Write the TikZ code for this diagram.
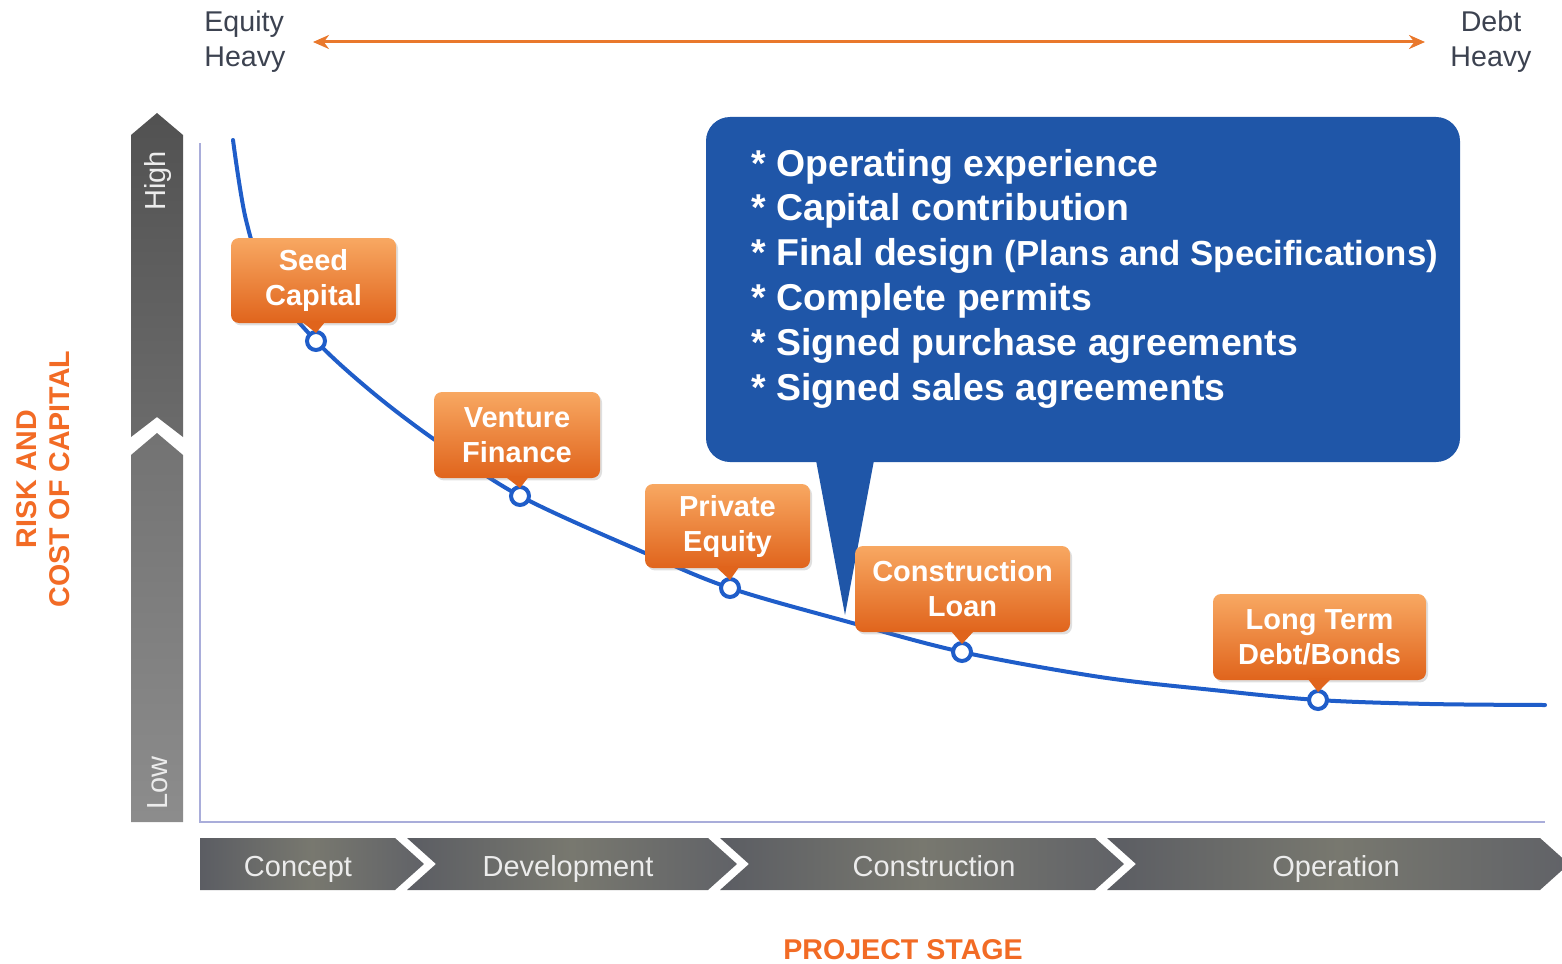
\documentclass[tikz,border=0pt]{standalone}
\usepackage{fontspec}
\setmainfont{Liberation Sans}
\usetikzlibrary{arrows.meta,shadows}

\definecolor{arroworange}{HTML}{E9782C}
\definecolor{labelorange}{HTML}{F26B25}
\definecolor{headgray}{HTML}{3C4250}
\definecolor{curveblue}{HTML}{1F5DC9}
\definecolor{calloutblue}{HTML}{1F56A8}
\definecolor{axisblue}{HTML}{A9ADDA}
\definecolor{boxtop}{HTML}{F8A862}
\definecolor{boxbot}{HTML}{E0641C}
\definecolor{chevdark}{HTML}{5B5D63}
\definecolor{chevmid}{HTML}{78786F}
\definecolor{chevtext}{HTML}{ECECEC}

\tikzset{
  headtext/.style={text=headgray, font=\fontsize{14.3}{17}\selectfont, inner sep=0pt},
  axistitle/.style={text=labelorange, font=\bfseries\fontsize{14.3}{16.5}\selectfont, inner sep=0pt, align=center},
  stagebox/.style={rounded corners=4pt, top color=boxtop, bottom color=boxbot, draw=none,
    text=white, font=\bfseries\fontsize{14.5}{17.5}\selectfont, align=center, inner sep=0pt,
    drop shadow={opacity=0.25, shadow xshift=1pt, shadow yshift=-1.2pt}},
  stageptr/.style={fill=boxbot},
  stagedot/.style={circle, draw=curveblue, line width=2pt, fill=white, minimum size=9pt, inner sep=0pt},
  chevron/.style={left color=chevdark, right color=chevdark!85!gray, middle color=chevmid, draw=none},
  chevlabel/.style={text=chevtext, font=\fontsize{14.5}{17}\selectfont, inner sep=0pt, anchor=base},
  levellabel/.style={text=chevtext, font=\fontsize{14.5}{17}\selectfont, inner sep=0pt, rotate=90},
  noteline/.style={text=white, font=\bfseries\fontsize{18.7}{22}\selectfont, inner sep=0pt, anchor=base west}
}

\begin{document}
\begin{tikzpicture}[x=0.5pt,y=-0.5pt]
\useasboundingbox (0,0) rectangle (1562,963);

% --- leverage arrow across the top ---
\node[headtext, anchor=base west] (eq1) at (204,32) {Equity};
\node[headtext, anchor=base west] (eq2) at (204,67) {Heavy};
\node[headtext, anchor=base] (db1) at (1491,32) {Debt};
\node[headtext, anchor=base] (db2) at (1491,67) {Heavy};
\coordinate (leftend) at (313,42);
\coordinate (rightend) at (1425,42);
\draw[arroworange, line width=1.5pt, {Stealth[length=8pt,width=7pt]}-{Stealth[length=8pt,width=7pt]}] (leftend) -- (rightend);

% --- vertical risk scale ---
\shade[top color=black!68, bottom color=black!58]
  (131,135) -- (157,113) -- (183,135) -- (183,437) -- (157,417) -- (131,437) -- cycle;
\shade[top color=black!55, bottom color=black!45]
  (131,455) -- (157,433) -- (183,455) -- (183,822) -- (131,822) -- cycle;
\node[levellabel] (high) at (158,181) {High};
\node[levellabel] (low) at (158,783) {Low};

% --- axis titles ---
\node[axistitle, rotate=90] (ytitle) at (43,479) {RISK AND\\COST OF CAPITAL};
\node[axistitle] (xtitle) at (903,950) {PROJECT STAGE};

% --- chart frame ---
\coordinate (ytop) at (200,143);
\coordinate (origin) at (200,822);
\coordinate (xend) at (1545,822);
\draw[axisblue, line width=0.8pt] (ytop) -- (origin) -- (xend);

% --- project stage chevrons ---
\shade[chevron] (200,838) -- (395,838) -- (424,864) -- (395,890) -- (200,890) -- cycle;
\shade[chevron] (407,838) -- (708,838) -- (737,864) -- (708,890) -- (407,890) -- (436,864) -- cycle;
\shade[chevron] (720,838) -- (1095,838) -- (1124,864) -- (1095,890) -- (720,890) -- (749,864) -- cycle;
\shade[chevron] (1107,838) -- (1540,838) -- (1569,864) -- (1540,890) -- (1107,890) -- (1136,864) -- cycle;
\node[chevlabel] (concept) at (298,876) {Concept};
\node[chevlabel] (develop) at (568,876) {Development};
\node[chevlabel] (construct) at (934,876) {Construction};
\node[chevlabel] (operate) at (1336,876) {Operation};

% --- cost of capital curve ---
\draw[curveblue, line width=2pt, line cap=round] plot[smooth, tension=0.55] coordinates {
  (233,140) (246,220) (268,282) (316,341) (372,392) (435,440) (520,496)
  (645,553) (730,588) (845,621) (962,652) (1100,677) (1213,690) (1318,700)
  (1430,704) (1545,705)};

\node[stagedot] (d1) at (316,341) {};
\node[stagedot] (d2) at (520,496) {};
\node[stagedot] (d3) at (730,588) {};
\node[stagedot] (d4) at (962,652) {};
\node[stagedot] (d5) at (1318,700) {};

% --- callout with lender requirements ---
\node[fill=calloutblue, rounded corners=12pt, minimum width=377pt, minimum height=172.5pt, inner sep=0pt] (notes) at (1083,289.5) {};
\coordinate (notetip) at (845,615);
\fill[calloutblue] (815,455) -- (875,455) -- (notetip) -- cycle;
\foreach \t [count=\i] in {Operating experience, Capital contribution,
    {Final design {\fontsize{17.4}{19}\selectfont(Plans and Specifications)}},
    Complete permits, Signed purchase agreements, Signed sales agreements}
  \node[noteline] (note\i) at (751,{176+(\i-1)*44.8}) {* \t};

% --- financing stage boxes ---
\node[stagebox, minimum width=82.5pt, minimum height=42.5pt] (seed) at (313.5,280.5) {Seed\\Capital};
\node[stagebox, minimum width=83pt, minimum height=43pt] (venture) at (517,435) {Venture\\Finance};
\node[stagebox, minimum width=82.5pt, minimum height=42pt] (private) at (727.5,526) {Private\\Equity};
\node[stagebox, minimum width=107.5pt, minimum height=43pt] (constr) at (962.5,589) {Construction\\Loan};
\node[stagebox, minimum width=106.5pt, minimum height=43pt] (longterm) at (1319.5,637) {Long Term\\Debt/Bonds};

\foreach \b/\d in {seed/d1, venture/d2, private/d3, constr/d4, longterm/d5}
  \fill[stageptr] ([xshift=-6pt,yshift=1pt]\b.south) -- ([xshift=6pt,yshift=1pt]\b.south) -- ([yshift=4pt]\d.center) -- cycle;

\end{tikzpicture}
\end{document}
